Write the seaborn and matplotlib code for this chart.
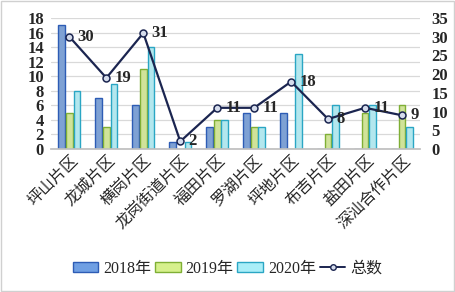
import numpy as np
import pandas as pd
import matplotlib
matplotlib.use("Agg")
import matplotlib.pyplot as plt
import seaborn as sns
from matplotlib.patches import Rectangle, Patch
from matplotlib.lines import Line2D

categories = ["坪山片区", "龙城片区", "横岗片区", "龙岗街道片区", "福田片区",
              "罗湖片区", "坪地片区", "布吉片区", "盐田片区", "深汕合作片区"]
v2018 = [17, 7, 6, 1, 3, 5, 5, 0, 0, 0]
v2019 = [5, 3, 11, 0, 4, 3, 0, 2, 5, 6]
v2020 = [8, 9, 14, 1, 4, 3, 13, 6, 6, 3]
totals = [30, 19, 31, 2, 11, 11, 18, 8, 11, 9]
series = ["2018年", "2019年", "2020年"]
line_name = "总数"

sns.set_theme(style="white")
plt.rcParams['font.family'] = ['Liberation Serif', 'Noto Sans CJK SC', 'DejaVu Sans']

df = pd.DataFrame({
    "cat": categories * 3,
    "val": v2018 + v2019 + v2020,
    "year": [series[0]] * 10 + [series[1]] * 10 + [series[2]] * 10,
})

faces = ["#6f9fe3", "#d6f08c", "#a9eef8"]
edges = ["#2d5cb5", "#7faf35", "#2aa6c4"]

fig = plt.figure(figsize=(4.55, 2.92), dpi=100)
ax = fig.add_axes([0.112, 0.49, 0.812, 0.448])

sns.barplot(data=df, x="cat", y="val", hue="year", order=categories,
            hue_order=series, palette=faces, width=0.62, gap=0.12,
            ax=ax, legend=False, linewidth=1.0)
for i, cont in enumerate(ax.containers):
    for b in cont:
        b.set_edgecolor(edges[i])
        b.set_linewidth(1.0)

ax.set_ylim(0, 18)
ax.set_yticks(np.arange(0, 19, 2))
ax.yaxis.grid(True, color="#d9d9d9", linewidth=0.9)
ax.set_axisbelow(True)
for s in ["left", "right", "top"]:
    ax.spines[s].set_visible(False)
ax.spines["bottom"].set_color("#bfbfbf")
ax.set_xlabel("")
ax.set_ylabel("")
ax.tick_params(axis="y", length=0, pad=5, labelsize=12)
for t in ax.get_yticklabels():
    t.set_fontweight("bold")
ax.tick_params(axis="x", length=0, pad=2)
ax.set_xticks(range(len(categories)))
ax.set_xticklabels(categories, rotation=45, ha="right", rotation_mode="anchor",
                   fontsize=11.5, family=['Noto Sans CJK SC'])

ax2 = ax.twinx()
xs = np.arange(len(categories))
ax2.plot(xs, totals, color="#1b2550", linewidth=1.6, marker="o", markersize=5,
         markerfacecolor="#d5dcec", markeredgecolor="#1b2550", markeredgewidth=1.1)
ax2.set_ylim(0, 35)
ax2.set_yticks(np.arange(0, 36, 5))
for s in ["left", "right", "top", "bottom"]:
    ax2.spines[s].set_visible(False)
ax2.tick_params(axis="y", length=0, pad=8, labelsize=12)
for t in ax2.get_yticklabels():
    t.set_fontweight("bold")
ax2.grid(False)
for x, t in zip(xs, totals):
    ax2.annotate(str(t), (x, t), xytext=(6, 0), textcoords="offset points",
                 va="center", ha="left", fontsize=12, fontweight="bold")
ax.set_xlim(-0.5, len(categories) - 0.5)

handles = [Patch(facecolor=faces[i], edgecolor=edges[i], linewidth=1.0) for i in range(3)]
handles.append(Line2D([0], [0], color="#1b2550", linewidth=1.4, marker="o", markersize=4,
                      markerfacecolor="#d5dcec", markeredgecolor="#1b2550"))
fig.legend(handles, series + [line_name], loc="center", bbox_to_anchor=(0.5, 0.08),
           ncol=4, frameon=False, fontsize=11.5, handlelength=1.6, handleheight=0.6,
           handletextpad=0.3, columnspacing=0.25, borderaxespad=0)

fig.patches.append(Rectangle((0.002, 0.003), 0.995, 0.993, transform=fig.transFigure,
                             fill=False, edgecolor="#d0d0d0", linewidth=1.0))
fig.savefig("out.png", dpi=100)
